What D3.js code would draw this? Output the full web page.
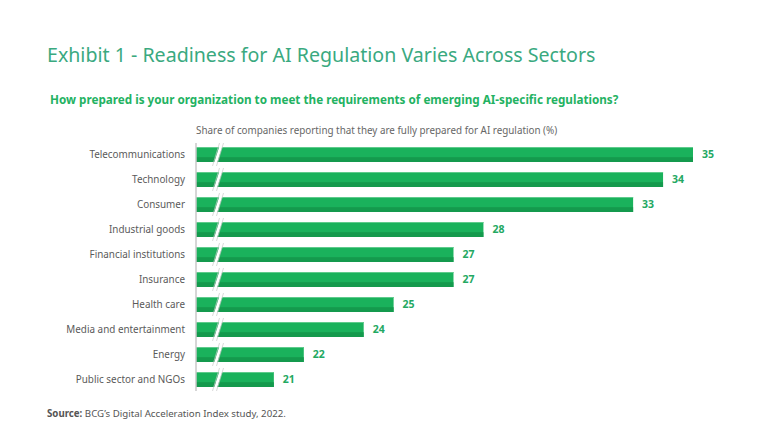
<!DOCTYPE html>
<html>
<head>
<meta charset="utf-8">
<script src="https://cdn.jsdelivr.net/npm/d3@7"></script>
<style>
  body { margin: 0; background: #fff; }
  svg { display: block; font-family: "Noto Sans", "Open Sans", sans-serif; }
</style>
</head>
<body>
<svg id="chart"></svg>
<script>
const sectors = [
    "Telecommunications", "Technology", "Consumer", "Industrial goods",
    "Financial institutions", "Insurance", "Health care",
    "Media and entertainment", "Energy", "Public sector and NGOs"
]
const shares = [35, 34, 33, 28, 27, 27, 25, 24, 22, 21]

const width = 768
const height = 448

const svg = d3.select("#chart")
    .attr("width", width)
    .attr("height", height)

// titles
svg.append("text")
    .attr("x", 47).attr("y", 62)
    .attr("fill", "#3aa97f")
    .attr("font-size", 19.6)
    .text("Exhibit 1 - Readiness for AI Regulation Varies Across Sectors")

svg.append("text")
    .attr("x", 50).attr("y", 104)
    .attr("fill", "#23b262")
    .attr("font-size", 11.7)
    .attr("font-weight", "bold")
    .text("How prepared is your organization to meet the requirements of emerging AI-specific regulations?")

svg.append("text")
    .attr("x", 196).attr("y", 134)
    .attr("fill", "#666")
    .attr("font-size", 9.85)
    .text("Share of companies reporting that they are fully prepared for AI regulation (%)")

// broken axis: bars start at 196, domain does not start at zero
const x = d3.scaleLinear().domain([18.4, 35]).range([196, 693])
const y = d3.scaleBand().domain(sectors).range([142, 392]).paddingInner(0.4).paddingOuter(0.2)

const rows = svg.append("g")
    .selectAll("g")
    .data(sectors)
    .join("g")
    .attr("transform", d => `translate(0,${y(d)})`)

const bh = y.bandwidth()
const barW = (d, i) => x(shares[i]) - x.range()[0]

rows.append("rect")
    .attr("x", x.range()[0])
    .attr("width", barW)
    .attr("height", bh)
    .attr("fill", "#1ab25c")

rows.append("rect")
    .attr("x", x.range()[0])
    .attr("y", bh * 0.68)
    .attr("width", barW)
    .attr("height", bh * 0.32)
    .attr("fill", "#149a4d")

rows.append("rect")
    .attr("x", x.range()[0])
    .attr("width", barW)
    .attr("height", 1)
    .attr("fill", "#5fcb8c")

// break marks
const brk = rows.append("g")
brk.append("path")
    .attr("d", `M214,${bh + 1} L219.5,-1 L222.5,-1 L217,${bh + 1} Z`)
    .attr("fill", "#fff")
brk.append("path")
    .attr("d", `M212.5,${bh + 4} L219.5,-4 M216.5,${bh + 4} L223.5,-4`)
    .attr("stroke", "#c8c8c8")
    .attr("stroke-width", 0.7)
    .attr("fill", "none")

// category labels
rows.append("text")
    .attr("x", 185)
    .attr("y", bh / 2)
    .attr("dy", "0.35em")
    .attr("text-anchor", "end")
    .attr("fill", "#5a5a5a")
    .attr("font-size", 9.9)
    .text(d => d)

// value labels
rows.append("text")
    .attr("x", (d, i) => x(shares[i]) + 9)
    .attr("y", bh / 2)
    .attr("dy", "0.35em")
    .attr("fill", "#23a862")
    .attr("font-size", 10.5)
    .attr("font-weight", "bold")
    .text((d, i) => shares[i])

// y axis line
svg.append("line")
    .attr("x1", 196).attr("x2", 196)
    .attr("y1", 143).attr("y2", 391)
    .attr("stroke", "#c8c8c8")
    .attr("stroke-width", 1.5)

// source
const src = svg.append("text")
    .attr("x", 47).attr("y", 417)
    .attr("fill", "#555")
    .attr("font-size", 9.7)
src.append("tspan").attr("font-weight", "bold").text("Source: ")
src.append("tspan").text("BCG\u2019s Digital Acceleration Index study, 2022.")
</script>
</body>
</html>
